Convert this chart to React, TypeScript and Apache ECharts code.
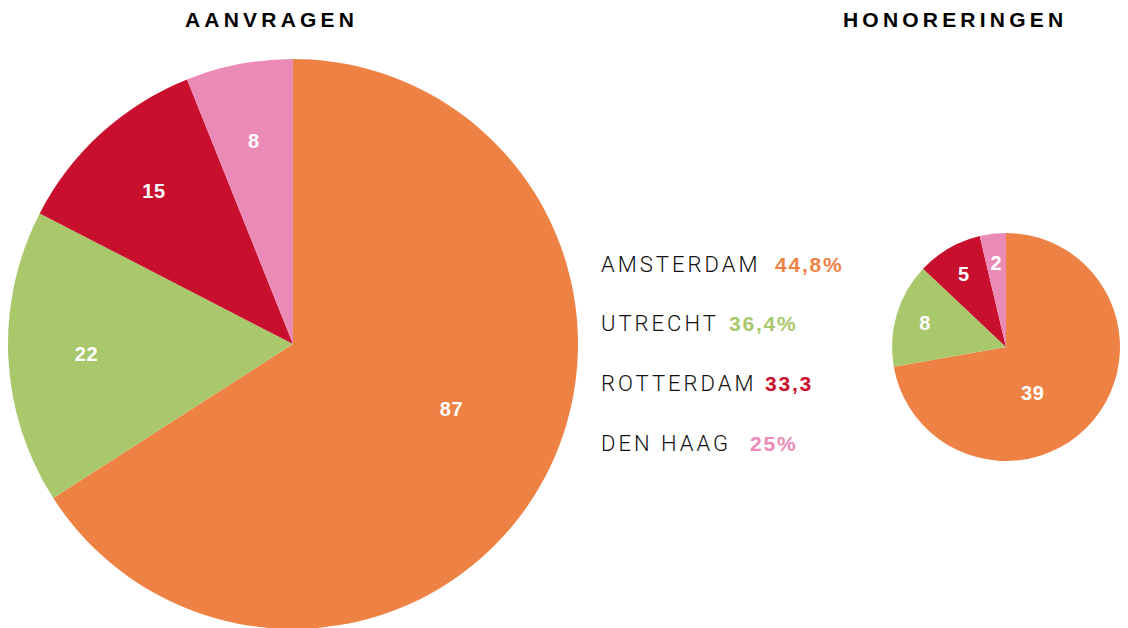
import React, { useEffect, useRef } from "react";
import * as echarts from "echarts";

const cities = ["Amsterdam", "Utrecht", "Rotterdam", "Den Haag"];
const colors = ["#EE8245", "#A8C86B", "#C8102E", "#EC8AB6"];
const aanvragen = [87, 22, 15, 8];
const honoreringen = [39, 8, 5, 2];
const legendNames = ["AMSTERDAM", "UTRECHT", "ROTTERDAM", "DEN HAAG"];
const legendValues = ["44,8%", "36,4%", "33,3", "25%"];
const titles = ["AANVRAGEN", "HONORERINGEN"];

const LEFT_C = [293, 344];
const LEFT_R = 285;
const RIGHT_C = [1006, 347];
const RIGHT_R = 114;

const legendNameX = 601;
const legendValueX = [775, 729, 765, 750];
const legendY = [264, 323, 383, 443];

const css = `
#chartbox text[style*="lspT"] { letter-spacing: 4.2px; }
#chartbox text[style*="lspN"] { letter-spacing: 3px; }
#chartbox text[style*="lspV"] { letter-spacing: 1.8px; }
#chartbox text[style*="lspL"] { letter-spacing: 0.5px; }
`;

function pieSeries(values: number[], center: number[], r: number, bigOffset: number[]) {
  const base = {
    type: "pie",
    center,
    startAngle: 90,
    clockwise: true,
    silent: true,
    animation: false,
  } as any;
  return [
    {
      ...base,
      radius: [0, r],
      label: { show: false },
      labelLine: { show: false },
      data: values.map((v, i) => ({
        name: cities[i],
        value: v,
        itemStyle: { color: colors[i] },
      })),
    },
    {
      ...base,
      radius: [r * 0.43, r],
      label: {
        show: true,
        position: "inside",
        formatter: "{c}",
        color: "#fff",
        fontWeight: "bold",
        fontSize: 20,
        fontFamily: "lspL, 'Liberation Sans', Arial, sans-serif",
      },
      labelLine: { show: false },
      data: values.map((v, i) => ({
        name: cities[i],
        value: v,
        itemStyle: { color: "rgba(0,0,0,0)" },
        label: i === 0 ? { offset: bigOffset } : undefined,
      })),
    },
  ];
}

export default function App() {
  const ref = useRef<HTMLDivElement>(null);
  useEffect(() => {
    if (!ref.current) return;
    const chart = echarts.init(ref.current, null, { renderer: "svg" });
    const graphics: any[] = [
      {
        type: "text",
        x: 185,
        y: 19,
        style: {
          text: titles[0],
          fill: "#000",
          font: "bold 21px lspT, 'Liberation Sans', Arial, sans-serif",
          verticalAlign: "middle",
          align: "left",
        },
      },
      {
        type: "text",
        x: 843,
        y: 19,
        style: {
          text: titles[1],
          fill: "#000",
          font: "bold 21px lspT, 'Liberation Sans', Arial, sans-serif",
          verticalAlign: "middle",
          align: "left",
        },
      },
    ];
    legendNames.forEach((n, i) => {
      graphics.push({
        type: "text",
        x: legendNameX,
        y: legendY[i],
        style: {
          text: n,
          fill: "#111",
          font: "300 22px lspN, Roboto, 'Liberation Sans', sans-serif",
          verticalAlign: "middle",
          align: "left",
        },
      });
      graphics.push({
        type: "text",
        x: legendValueX[i],
        y: legendY[i],
        style: {
          text: legendValues[i],
          fill: colors[i],
          font: "bold 21px lspV, 'Liberation Sans', Arial, sans-serif",
          verticalAlign: "middle",
          align: "left",
        },
      });
    });
    chart.setOption({
      animation: false,
      backgroundColor: "#fff",
      series: [
        ...pieSeries(aanvragen, LEFT_C, LEFT_R, [-23, -34]),
        ...pieSeries(honoreringen, RIGHT_C, RIGHT_R, [-38, -8]),
      ],
      graphic: graphics,
    });
    return () => chart.dispose();
  }, []);
  return (
    <>
      <style>{css}</style>
      <div
        id="chartbox"
        ref={ref}
        style={{ position: "fixed", left: 0, top: 0, width: 1128, height: 628 }}
      />
    </>
  );
}
